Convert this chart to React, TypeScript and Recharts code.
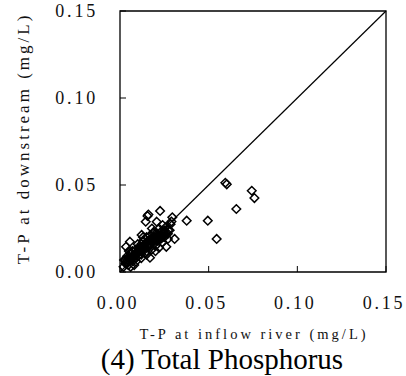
import React from 'react';
import { ScatterChart, Scatter, XAxis, YAxis, ReferenceArea, ReferenceLine } from 'recharts';

// inflow river (x) vs downstream (y), T-P in mg/L
const inflowTP = [
  0.0594, 0.0602, 0.0743, 0.0758, 0.0656, 0.0495, 0.0545, 0.0376, 0.0308, 0.0295,
  0.0290, 0.0226, 0.0160, 0.0155, 0.0145, 0.0207, 0.0169, 0.0261, 0.0272, 0.0188,
  0.0122, 0.0056, 0.0034, 0.0047, 0.0023, 0.0285, 0.0240,
  0.003, 0.004, 0.005, 0.004, 0.006, 0.006, 0.007, 0.007, 0.008, 0.008,
  0.009, 0.009, 0.010, 0.010, 0.011, 0.011, 0.012, 0.012, 0.013, 0.013,
  0.014, 0.014, 0.015, 0.015, 0.016, 0.016, 0.017, 0.017, 0.018, 0.018,
  0.019, 0.019, 0.020, 0.020, 0.021, 0.021, 0.022, 0.022, 0.023, 0.023,
  0.024, 0.024, 0.025, 0.025, 0.026, 0.027, 0.028, 0.008, 0.006, 0.005,
  0.010, 0.012, 0.015, 0.020, 0.022, 0.018, 0.013, 0.026, 0.009, 0.002,
  0.003, 0.004, 0.005, 0.006, 0.007, 0.008, 0.009, 0.010, 0.011, 0.012,
  0.013, 0.014, 0.016, 0.017, 0.019, 0.021, 0.023, 0.024, 0.025, 0.027,
  0.0105, 0.0125, 0.0145, 0.0165, 0.0185, 0.0205, 0.0225,
];
const downstreamTP = [
  0.0513, 0.0504, 0.0467, 0.0425, 0.0362, 0.0295, 0.0190, 0.0295, 0.0190, 0.0314,
  0.0290, 0.0351, 0.0330, 0.0322, 0.0289, 0.0289, 0.0082, 0.0145, 0.0241, 0.0222,
  0.0213, 0.0174, 0.0145, 0.0040, 0.0069, 0.0275, 0.0270,
  0.005, 0.007, 0.006, 0.009, 0.008, 0.011, 0.009, 0.012, 0.010, 0.007,
  0.011, 0.013, 0.009, 0.012, 0.014, 0.010, 0.012, 0.016, 0.013, 0.018,
  0.015, 0.011, 0.017, 0.020, 0.014, 0.018, 0.016, 0.021, 0.019, 0.013,
  0.017, 0.023, 0.020, 0.015, 0.018, 0.022, 0.021, 0.025, 0.019, 0.023,
  0.022, 0.017, 0.024, 0.020, 0.022, 0.019, 0.024, 0.004, 0.003, 0.012,
  0.016, 0.008, 0.010, 0.012, 0.014, 0.025, 0.020, 0.026, 0.006, 0.003,
  0.007, 0.005, 0.008, 0.010, 0.007, 0.009, 0.010, 0.011, 0.012, 0.010,
  0.015, 0.013, 0.016, 0.018, 0.020, 0.020, 0.021, 0.020, 0.022, 0.022,
  0.0135, 0.0145, 0.0165, 0.0155, 0.0175, 0.0185, 0.0195,
];
const axisTicks = [0, 0.05, 0.1, 0.15];

const points = inflowTP.map((x, i) => ({ x, y: downstreamTP[i] }));

const FONT = '"Liberation Serif", "Times New Roman", serif';
const INK = '#111';

const Diamond = (props: any) => {
  const { cx, cy } = props;
  const r = 4.3;
  return (
    <path
      d={`M${cx},${cy - r}L${cx + r},${cy}L${cx},${cy + r}L${cx - r},${cy}Z`}
      fill="none"
      stroke="#000"
      strokeWidth={1.5}
    />
  );
};

const XTick = (props: any) => {
  const { x, y, payload } = props;
  return (
    <g>
      <line x1={x} y1={y} x2={x} y2={y - 6} stroke="#000" strokeWidth={1} />
      <text x={x - 2} y={y + 31} textAnchor="middle" dominantBaseline="central"
        fontFamily={FONT} fontSize={18} letterSpacing={2.8} fill={INK}>
        {payload.value.toFixed(2)}
      </text>
    </g>
  );
};

const YTick = (props: any) => {
  const { x, y, payload } = props;
  return (
    <g>
      <line x1={x} y1={y} x2={x + 6} y2={y} stroke="#000" strokeWidth={1} />
      <text x={x - 22} y={y} textAnchor="end" dominantBaseline="central"
        fontFamily={FONT} fontSize={18} letterSpacing={2.8} fill={INK}>
        {payload.value.toFixed(2)}
      </text>
    </g>
  );
};

export default function App() {
  return (
    <div style={{ position: 'absolute', left: 0, top: 0, width: 406, height: 376, background: '#fff' }}>
      <ScatterChart width={406} height={376} margin={{ top: 11, right: 20, left: 0, bottom: 0 }}>
        <XAxis
          type="number"
          dataKey="x"
          domain={[0, 0.15]}
          ticks={axisTicks}
          interval={0}
          height={104}
          tickSize={0}
          tickMargin={0}
          tickLine={false}
          axisLine={false}
          tick={<XTick />}
          label={{
            content: (p: any) => {
              const vb = p.viewBox;
              return (
                <g>
                  <text x={vb.x + vb.width / 2 + 1} y={vb.y + 62} textAnchor="middle" dominantBaseline="central"
                    fontFamily={FONT} fontSize={14.5} letterSpacing={3} fill={INK}>
                    T-P at inflow river (mg/L)
                  </text>
                  <text x={222} y={369} textAnchor="middle"
                    fontFamily={FONT} fontSize={29} fill="#000">
                    (4) Total Phosphorus
                  </text>
                </g>
              );
            },
          }}
        />
        <YAxis
          type="number"
          dataKey="y"
          domain={[0, 0.15]}
          ticks={axisTicks}
          interval={0}
          width={120}
          tickSize={0}
          tickMargin={0}
          tickLine={false}
          axisLine={false}
          tick={<YTick />}
          label={{
            content: (p: any) => {
              const vb = p.viewBox;
              const cx = 23;
              const cy = vb.y + vb.height / 2 - 3;
              return (
                <text x={cx} y={cy} transform={`rotate(-90 ${cx} ${cy})`} textAnchor="middle"
                  dominantBaseline="central" fontFamily={FONT} fontSize={17} letterSpacing={3} fill={INK}>
                  T-P at downstream (mg/L)
                </text>
              );
            },
          }}
        />
        <ReferenceArea x1={0} x2={0.15} y1={0} y2={0.15} fill="none" stroke="#000" strokeWidth={1.3} fillOpacity={0} />
        <ReferenceLine segment={[{ x: 0, y: 0 }, { x: 0.15, y: 0.15 }]} stroke="#000" strokeWidth={1.2} />
        <Scatter data={points} shape={<Diamond />} isAnimationActive={false} />
      </ScatterChart>
    </div>
  );
}
